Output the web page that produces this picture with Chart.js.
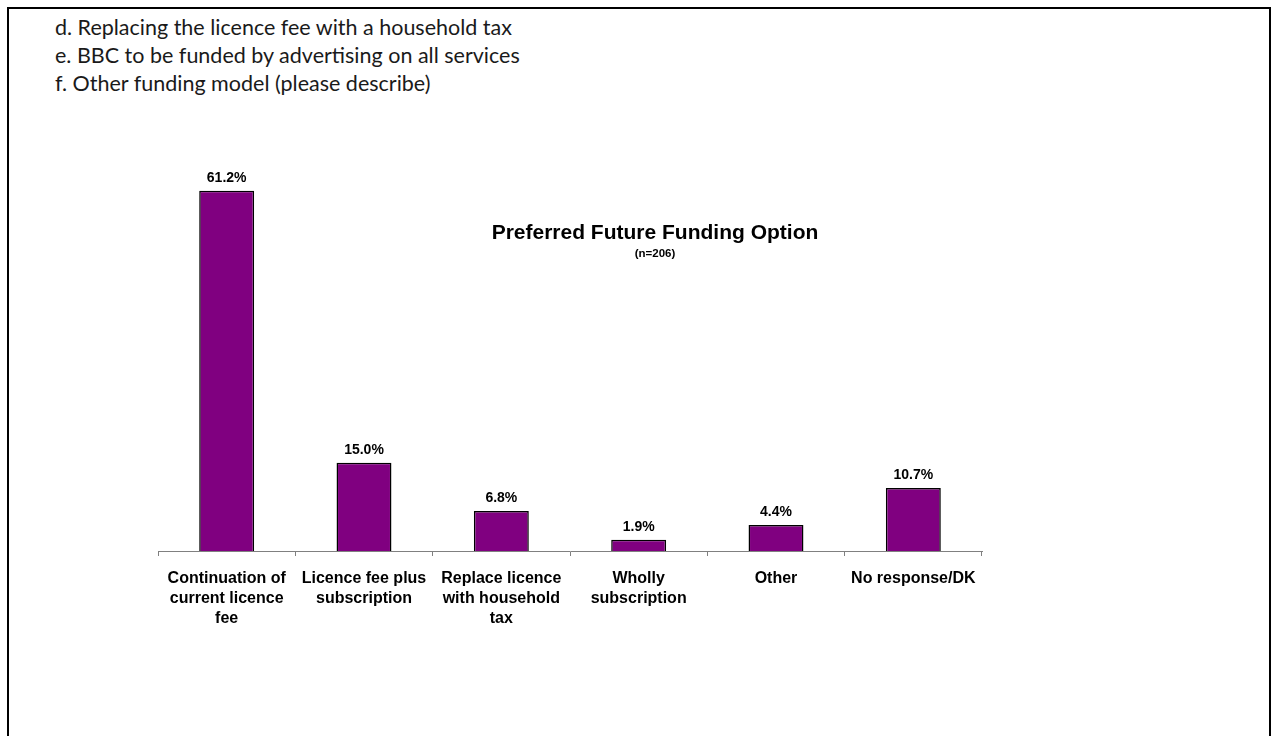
<!DOCTYPE html>
<html>
<head>
<meta charset="utf-8">
<script src="https://cdn.jsdelivr.net/npm/chart.js@4"></script>
<style>
  html, body { margin: 0; padding: 0; background: #fff; }
  body { width: 1276px; height: 736px; position: relative; overflow: hidden; }
  #frame { position: absolute; left: 7px; top: 7px; width: 1264px; height: 760px;
           border: 2px solid #000; box-sizing: border-box; }
  #notes { position: absolute; left: 55px; top: 13px; font-family: Lato, "Open Sans", sans-serif;
           font-size: 21.5px; line-height: 28px; color: #1a1a1a; }
  #wrap { position: absolute; left: 0; top: 0; width: 1276px; height: 736px; }
  #title { position: absolute; left: 455px; width: 400px; top: 219px; text-align: center;
           font-family: Arial, "Liberation Sans", sans-serif; font-weight: bold; color: #000; }
  #title .main { font-size: 21px; line-height: 26px; }
  #title .sub { font-size: 11.5px; line-height: 14px; margin-top: 1px; }
</style>
</head>
<body>
<div id="frame"></div>
<div id="notes">
  <div>d. Replacing the licence fee with a household tax</div>
  <div>e. BBC to be funded by advertising on all services</div>
  <div>f. Other funding model (please describe)</div>
</div>
<div id="wrap"><canvas id="fundingChart" width="1276" height="736"></canvas></div>
<div id="title"><div class="main">Preferred Future Funding Option</div><div class="sub">(n=206)</div></div>
<script>
var categories = [
    ["Continuation of", "current licence", "fee"],
    ["Licence fee plus", "subscription"],
    ["Replace licence", "with household", "tax"],
    ["Wholly", "subscription"],
    ["Other"],
    ["No response/DK"]
];
var shares = [61.2, 15.0, 6.8, 1.9, 4.4, 10.7];
var yMax = 70;

// value labels above each bar
var barLabels = {
    id: "barLabels",
    afterDatasetsDraw: function(chart) {
        var ctx = chart.ctx;
        var meta = chart.getDatasetMeta(0);
        ctx.save();
        ctx.font = "bold 14px Arial, 'Liberation Sans', sans-serif";
        ctx.fillStyle = "#000";
        ctx.textAlign = "center";
        ctx.textBaseline = "alphabetic";
        meta.data.forEach(function(bar, i) {
            ctx.fillText(shares[i].toFixed(1) + "%", bar.x, bar.y - 9);
        });
        ctx.restore();
    }
};

new Chart(document.getElementById("fundingChart"), {
    type: "bar",
    data: {
        labels: categories,
        datasets: [{
            data: shares,
            backgroundColor: "#800080",
            borderColor: "#000",
            borderWidth: 1.5,
            borderSkipped: "bottom",
            barPercentage: 0.4,
            categoryPercentage: 1.0
        }]
    },
    options: {
        responsive: false,
        animation: false,
        layout: { padding: { left: 158, right: 294, top: 139, bottom: 85 } },
        plugins: { legend: { display: false }, title: { display: false }, tooltip: { enabled: false } },
        scales: {
            x: {
                grid: { offset: true, drawOnChartArea: false, tickLength: 5, color: "#808080", lineWidth: 1 },
                border: { display: true, color: "#808080", width: 1 },
                ticks: {
                    color: "#000",
                    padding: 13,
                    maxRotation: 0,
                    autoSkip: false,
                    font: { family: "Arial, 'Liberation Sans', sans-serif", size: 16, weight: "bold", lineHeight: 1.25 }
                },
                afterFit: function(scale) { scale.height = 100; }
            },
            y: {
                display: false,
                min: 0,
                max: yMax
            }
        }
    },
    plugins: [barLabels]
});
</script>
</body>
</html>
